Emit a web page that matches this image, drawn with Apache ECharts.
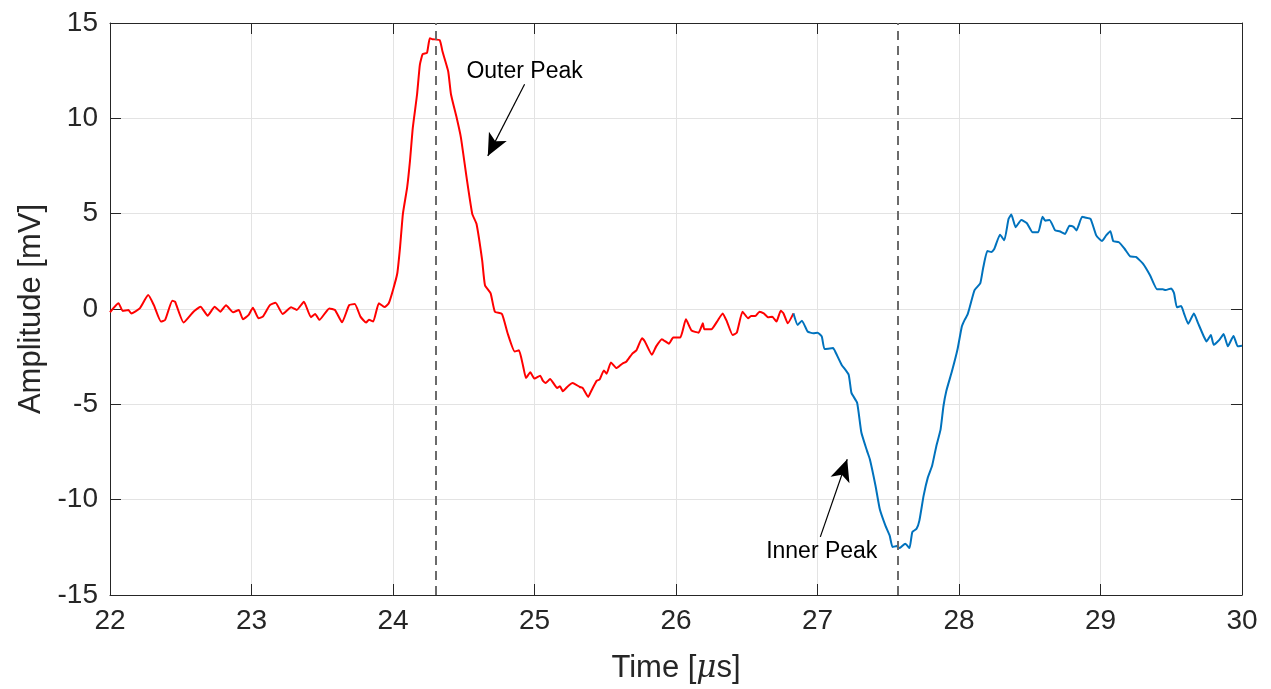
<!DOCTYPE html>
<html>
<head>
<meta charset="utf-8">
<title>Amplitude vs Time</title>
<script src="https://cdn.jsdelivr.net/npm/echarts@6/dist/echarts.min.js"></script>
<style>
  html, body { margin: 0; padding: 0; background: #fff; }
  #chart { width: 1271px; height: 689px; }
</style>
</head>
<body>
<div id="chart"></div>
<script>
// outer peak part (red)
var redTime = [22.00, 22.06, 22.09, 22.13, 22.15, 22.21, 22.27, 22.31, 22.36, 22.39,
  22.44, 22.46, 22.52, 22.59, 22.64, 22.69, 22.74, 22.78, 22.82, 22.87,
  22.91, 22.94, 22.98, 23.01, 23.05, 23.08, 23.13, 23.17, 23.22, 23.28,
  23.32, 23.37, 23.42, 23.45, 23.48, 23.55, 23.59, 23.64, 23.69, 23.73,
  23.77, 23.81, 23.83, 23.86, 23.90, 23.94, 23.97, 24.00, 24.03, 24.05,
  24.07, 24.10, 24.12, 24.14, 24.17, 24.19, 24.21, 24.24, 24.26, 24.28,
  24.33, 24.35, 24.39, 24.41, 24.45, 24.48, 24.52, 24.56, 24.59, 24.63,
  24.65, 24.69, 24.72, 24.77, 24.81, 24.86, 24.89, 24.92, 24.94, 24.97,
  25.00, 25.04, 25.06, 25.08, 25.11, 25.16, 25.18, 25.20, 25.24, 25.27,
  25.32, 25.34, 25.38, 25.40, 25.44, 25.46, 25.49, 25.51, 25.54, 25.58,
  25.62, 25.65, 25.69, 25.72, 25.76, 25.78, 25.83, 25.86, 25.90, 25.95,
  25.98, 26.03, 26.07, 26.11, 26.16, 26.19, 26.20, 26.25, 26.29, 26.33,
  26.36, 26.40, 26.43, 26.47, 26.51, 26.53, 26.56, 26.59, 26.62, 26.65,
  26.68, 26.71, 26.74, 26.76, 26.79, 26.83];
var redAmp = [-0.17, 0.30, -0.10, -0.05, -0.23, 0.03, 0.73, 0.20, -0.66, -0.57,
  0.43, 0.38, -0.71, -0.14, 0.12, -0.35, 0.12, -0.14, 0.20, -0.17,
  -0.05, -0.54, -0.31, 0.07, -0.49, -0.40, 0.20, 0.33, -0.26, 0.09,
  -0.05, 0.38, -0.43, -0.26, -0.57, 0.03, -0.05, -0.70, 0.20, 0.26,
  -0.40, -0.71, -0.57, -0.66, 0.30, 0.10, 0.30, 1.00, 1.86, 3.25,
  4.99, 6.38, 7.77, 9.51, 11.25, 12.82, 13.37, 13.43, 14.20, 14.15,
  14.10, 13.50, 12.47, 11.25, 10.03, 8.99, 6.90, 4.99, 4.47, 2.56,
  1.25, 0.82, -0.14, -0.26, -1.27, -2.23, -2.17, -3.01, -3.62, -3.32,
  -3.65, -3.50, -3.77, -3.88, -3.67, -4.14, -4.05, -4.31, -4.02, -3.88,
  -4.09, -4.14, -4.61, -4.31, -3.76, -3.70, -3.22, -3.39, -2.80, -3.10,
  -2.87, -2.75, -2.35, -2.17, -1.53, -1.70, -2.40, -1.96, -1.58, -1.82,
  -1.50, -1.50, -0.54, -1.13, -1.24, -0.75, -1.06, -1.06, -0.66, -0.23,
  -0.66, -1.36, -1.24, -0.14, -0.49, -0.37, -0.37, -0.14, -0.23, -0.43,
  -0.40, -0.66, -0.09, -0.23, -0.75, -0.23];

// inner peak part (blue)
var blueTime = [26.83, 26.86, 26.89, 26.93, 26.97, 27.00, 27.03, 27.05, 27.11, 27.13,
  27.17, 27.22, 27.24, 27.28, 27.31, 27.35, 27.37, 27.41, 27.44, 27.48,
  27.51, 27.53, 27.56, 27.58, 27.62, 27.65, 27.67, 27.70, 27.72, 27.75,
  27.78, 27.81, 27.84, 27.87, 27.89, 27.91, 27.95, 27.99, 28.02, 28.04,
  28.06, 28.08, 28.11, 28.15, 28.17, 28.20, 28.23, 28.25, 28.29, 28.32,
  28.35, 28.37, 28.40, 28.44, 28.48, 28.52, 28.56, 28.59, 28.61, 28.64,
  28.68, 28.71, 28.75, 28.78, 28.81, 28.83, 28.87, 28.89, 28.93, 28.97,
  29.01, 29.04, 29.07, 29.09, 29.13, 29.17, 29.21, 29.25, 29.30, 29.35,
  29.40, 29.44, 29.46, 29.50, 29.52, 29.54, 29.57, 29.59, 29.62, 29.66,
  29.69, 29.73, 29.75, 29.78, 29.80, 29.84, 29.87, 29.90, 29.94, 29.97, 30.00];
var blueAmp = [-0.23, -0.84, -0.61, -1.18, -1.27, -1.24, -1.44, -2.10, -2.05, -2.31,
  -2.92, -3.44, -4.40, -4.92, -6.48, -7.44, -7.88, -9.27, -10.49, -11.36,
  -11.88, -12.48, -12.43, -12.54, -12.31, -12.54, -11.70, -11.53, -11.10, -9.79,
  -8.83, -8.22, -7.18, -6.31, -5.10, -4.31, -3.27, -2.10, -0.92, -0.57,
  -0.30, 0.21, 0.99, 1.34, 2.12, 3.04, 2.99, 3.16, 3.90, 3.60,
  4.72, 4.95, 4.29, 4.67, 4.50, 4.03, 4.03, 4.84, 4.63, 4.67,
  4.12, 4.08, 3.94, 4.37, 4.31, 4.12, 4.84, 4.80, 4.72, 3.86,
  3.56, 3.86, 4.08, 3.56, 3.50, 3.16, 2.76, 2.73, 2.38, 1.77,
  1.03, 1.03, 0.99, 1.08, 0.82, 0.09, 0.16, -0.23, -0.78, -0.23,
  -0.75, -1.44, -1.70, -1.36, -1.88, -1.62, -1.31, -1.96, -1.41, -1.96, -1.93];

// peak markers and annotations
var peakTimes = [24.30, 27.57];
var annoText = ['Outer Peak', 'Inner Peak'];
var annoTextPos = [[24.93, 12.47], [27.03, -12.73]];
var arrowFrom = [[24.93, 11.79], [27.02, -11.95]];
var arrowTo = [[24.67, 8.03], [27.21, -7.88]];

function zip(a, b) {
  return a.map(function (v, i) { return [v, b[i]]; });
}

var chart = echarts.init(document.getElementById('chart'));
var frame = '#262626';
var font = 'Liberation Sans, Arial, Helvetica, sans-serif';

function frameAxis(extra) {
  return Object.assign({
    type: 'value',
    axisLine: { show: true, onZero: false, lineStyle: { color: frame, width: 1 } },
    axisTick: { show: true, inside: true, length: 11, lineStyle: { color: frame } },
    axisLabel: { show: false },
    splitLine: { show: false }
  }, extra);
}

chart.setOption({
  animation: false,
  grid: { left: 110, right: 29, top: 23, bottom: 94 },
  xAxis: [
    frameAxis({
      min: 22, max: 30, interval: 1, position: 'bottom',
      name: '{a|Time [}{b|μ}{a|s]}',
      nameLocation: 'middle', nameGap: 58,
      nameTextStyle: {
        rich: {
          a: { fontSize: 31, fontFamily: font, color: frame },
          b: { fontSize: 31, fontFamily: 'DejaVu Serif, serif', fontStyle: 'italic', color: frame }
        }
      },
      axisLabel: { show: true, fontSize: 28, color: frame, fontFamily: font, margin: 12 },
      splitLine: { show: true, lineStyle: { color: '#e3e3e3', width: 1 } }
    }),
    frameAxis({ min: 22, max: 30, interval: 1, position: 'top' })
  ],
  yAxis: [
    frameAxis({
      min: -15, max: 15, interval: 5, position: 'left',
      name: 'Amplitude [mV]',
      nameLocation: 'middle', nameGap: 60,
      nameTextStyle: { fontSize: 31, fontFamily: font, color: frame },
      axisLabel: { show: true, fontSize: 28, color: frame, fontFamily: font, margin: 12 },
      splitLine: { show: true, lineStyle: { color: '#e3e3e3', width: 1 } }
    }),
    frameAxis({ min: -15, max: 15, interval: 5, position: 'right' })
  ],
  series: [{
    type: 'line',
    data: zip(redTime, redAmp),
    showSymbol: false,
    smooth: 0.15,
    lineStyle: { color: '#ff0000', width: 2 },
    itemStyle: { color: '#ff0000' },
    z: 3
  }, {
    type: 'line',
    data: zip(blueTime, blueAmp),
    showSymbol: false,
    smooth: 0.15,
    lineStyle: { color: '#0072bd', width: 2 },
    itemStyle: { color: '#0072bd' },
    z: 3,
    markLine: {
      silent: true,
      symbol: ['none', 'none'],
      label: { show: false },
      lineStyle: { color: '#6b6b6b', width: 2, type: [9, 6] },
      data: peakTimes.map(function (t) { return { xAxis: t }; })
    }
  }, {
    // annotation arrows and texts
    type: 'line',
    data: [],
    markLine: {
      silent: true,
      symbol: ['none', 'arrow'],
      symbolSize: [15, 22],
      label: { show: false },
      lineStyle: { color: '#000', width: 1.2, type: 'solid' },
      data: arrowFrom.map(function (p, i) {
        return [{ coord: p }, { coord: arrowTo[i] }];
      })
    },
    markPoint: {
      silent: true,
      symbol: 'rect',
      symbolSize: 1,
      itemStyle: { color: 'rgba(0,0,0,0)' },
      label: {
        show: true, position: 'inside',
        fontSize: 23, fontFamily: font, color: '#000',
        formatter: function (p) { return p.name; }
      },
      data: annoText.map(function (txt, i) {
        return { name: txt, coord: annoTextPos[i] };
      })
    }
  }]
});
</script>
</body>
</html>
